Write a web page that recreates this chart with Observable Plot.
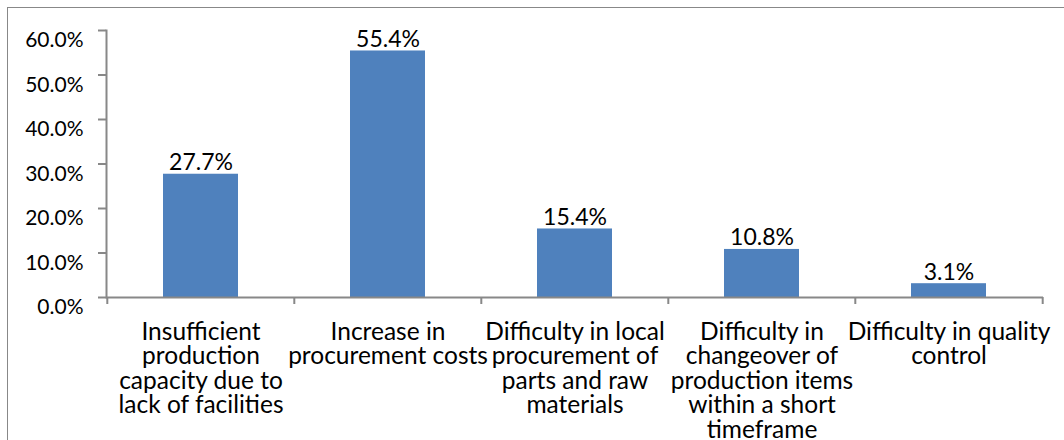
<!DOCTYPE html>
<html><head><meta charset="utf-8">
<script src="https://cdn.jsdelivr.net/npm/d3@7"></script>
<script src="https://cdn.jsdelivr.net/npm/@observablehq/plot@0.6"></script>
<style>
html,body{margin:0;padding:0;background:#fff;overflow:hidden}
#wrap{position:relative;width:1064px;height:440px;overflow:hidden}
#border{position:absolute;left:7px;top:7px;width:1100px;height:500px;border-top:1px solid #888;border-left:1px solid #888;pointer-events:none}
#wrap svg{position:absolute;left:0;top:0}
</style></head><body><div id="wrap"><div id="border"></div></div>
<script>
const categories = ["Insufficient production capacity due to lack of facilities", "Increase in procurement costs", "Difficulty in local procurement of parts and raw materials", "Difficulty in changeover of production items within a short timeframe", "Difficulty in quality control"];
const labels = ["Insufficient\nproduction\ncapacity due to\nlack of facilities", "Increase in\nprocurement costs", "Difficulty in local\nprocurement of\nparts and raw\nmaterials", "Difficulty in\nchangeover of\nproduction items\nwithin a short\ntimeframe", "Difficulty in quality\ncontrol"];
const values = [0.277, 0.554, 0.154, 0.108, 0.031];
const yTicks = [0, 0.1, 0.2, 0.3, 0.4, 0.5, 0.6];

const data = categories.map((c, i) => ({category: c, value: values[i]}));
const W = 1064, H = 440, mL = 106, mR = 21;
const step = (W - mL - mR) / categories.length;
const axisColor = "#888888";
const pct = d3.format(".1%");

const chart = Plot.plot({
  width: W, height: H,
  marginLeft: mL, marginRight: mR, marginTop: 30, marginBottom: 143,
  style: {fontFamily: "Lato, 'Open Sans', sans-serif", fontSize: "21px", color: "#000", background: "transparent", overflow: "visible"},
  x: {domain: categories, paddingInner: 0.6, paddingOuter: 0.3, axis: null, label: null},
  y: {domain: [0, 0.6], axis: null, label: null},
  marks: [
    Plot.barY(data, {x: "category", y: "value", fill: "#4F81BD"}),
    Plot.text(data, {x: "category", y: "value", text: d => pct(d.value), lineAnchor: "bottom", dy: -4, fontSize: 23, fill: "#000"}),
    Plot.ruleY([0], {stroke: axisColor, strokeWidth: 2}),
    Plot.frame({anchor: "left", stroke: axisColor, strokeWidth: 2}),
    Plot.axisY({ticks: yTicks, tickSize: 8, fill: "none", stroke: axisColor, strokeWidth: 2, label: null}),
    Plot.axisY({ticks: yTicks, tickSize: 0, tickPadding: 23, stroke: "none", tickFormat: pct, dy: 10, fill: "#000", label: null}),
    Plot.axisX({ticks: categories, tickSize: 7, fill: "none", stroke: axisColor, strokeWidth: 2, dx: -step / 2, label: null}),
    Plot.axisX({ticks: [categories[categories.length - 1]], tickSize: 7, fill: "none", stroke: axisColor, strokeWidth: 2, dx: step / 2, label: null}),
    Plot.axisX({ticks: categories, tickSize: 0, tickPadding: 25, stroke: "none", fill: "#000", fontSize: 24.5, lineHeight: 1.0, tickFormat: d => labels[categories.indexOf(d)], label: null})
  ]
});
document.getElementById("wrap").appendChild(chart);
</script>
</body></html>
